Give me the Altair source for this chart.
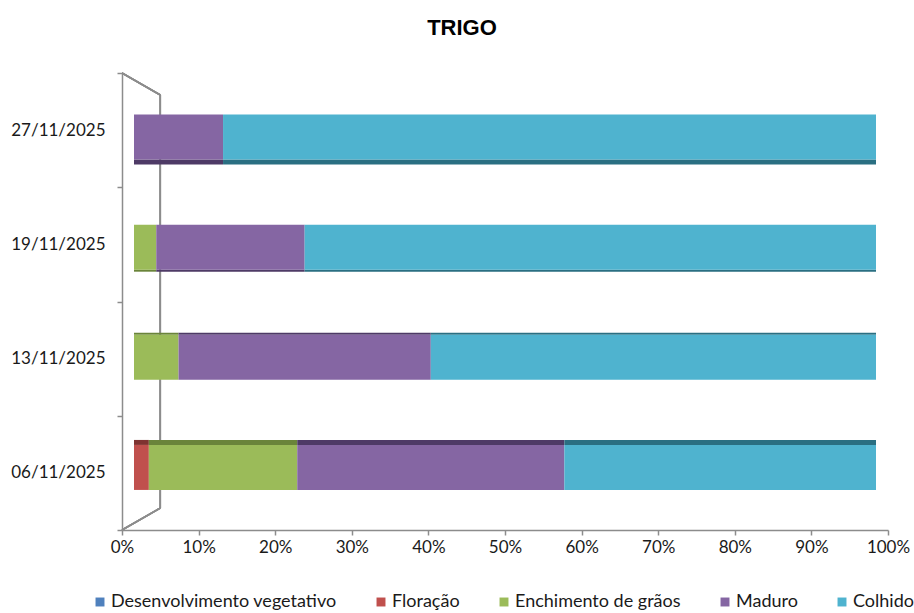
import altair as alt
import pandas as pd

dates = ["27/11/2025", "19/11/2025", "13/11/2025", "06/11/2025"]
stages = ["Desenvolvimento vegetativo", "Floração", "Enchimento de grãos", "Maduro", "Colhido"]
colors = ["#4F81BD", "#C0504D", "#9BBB59", "#8566A3", "#4FB3CF"]
dark_colors = ["#2F4F7A", "#7E3331", "#6A843A", "#4E3A66", "#2A6F82"]

# percent per stage, one list per date (same order as `dates`)
desenv = [0, 0, 0, 0]
floracao = [0, 0, 0, 2]
enchimento = [0, 3, 6, 20]
maduro = [12, 20, 34, 36]
colhido = [88, 77, 60, 42]

x_ticks = [0, 10, 20, 30, 40, 50, 60, 70, 80, 90, 100]

series = [desenv, floracao, enchimento, maduro, colhido]
rows = []
for di, d in enumerate(dates):
    cum = 0.0
    for si, s in enumerate(stages):
        v = series[si][di]
        rows.append({"date": d, "stage": s, "idx": si, "value": v,
                     "start": cum, "end": cum + v, "dark": dark_colors[si]})
        cum += v
df = pd.DataFrame(rows)

FONT = "Lato"

# ---- axes layer (0..100 % on the full plot width, band ticks at boundaries)
axis_df = pd.DataFrame({"date": dates, "v": [0] * len(dates)})
axes = alt.Chart(axis_df).mark_point(opacity=0).encode(
    x=alt.X("v:Q", scale=alt.Scale(domain=[0, 100], nice=False),
            axis=alt.Axis(values=x_ticks, labelExpr="datum.value + '%'", title=None,
                          grid=False, tickSize=5, tickColor="#8c8c8c", domainColor="#8c8c8c",
                          domainWidth=1.5, tickWidth=1.5, labelFont=FONT, labelFontSize=17,
                          labelColor="#1a1a1a", labelPadding=4, labelFlush=False)),
    y=alt.Y("date:N", sort=dates,
            axis=alt.Axis(title=None, tickBand="extent", tickSize=5, tickColor="#8c8c8c",
                          domainColor="#8c8c8c", domainWidth=1.5, tickWidth=1.5,
                          labelFont=FONT, labelFontSize=17, labelColor="#1a1a1a",
                          labelPadding=12)),
)

# ---- 3D back wall outline
wall_v = alt.Chart(axis_df).mark_rule(color="#8c8c8c", strokeWidth=1.5).encode(
    x=alt.datum(5), y=alt.value(22), y2=alt.value(435))
wall_top = alt.Chart(axis_df).mark_rule(color="#8c8c8c", strokeWidth=1.5).encode(
    x=alt.datum(0), x2=alt.datum(5), y=alt.value(0), y2=alt.value(22))
wall_bot = alt.Chart(axis_df).mark_rule(color="#8c8c8c", strokeWidth=1.5).encode(
    x=alt.datum(0), x2=alt.datum(5), y=alt.value(457), y2=alt.value(435))

frame = alt.layer(axes, wall_v, wall_top, wall_bot)

# ---- bars (front face) on an inner scale mimicking the 3D depth
xs = alt.X("start:Q", scale=alt.Scale(domain=[0, 100], range=[12, 754], nice=False), axis=None)
ys = alt.Y("date:N", sort=dates,
           scale=alt.Scale(range=[9, 449.5], paddingInner=0.591, paddingOuter=0.2955),
           axis=None)

bars = alt.Chart(df).mark_bar(size=45).encode(
    x=xs, x2="end:Q", y=ys,
    color=alt.Color("stage:N", scale=alt.Scale(domain=stages, range=colors),
                    legend=alt.Legend(title=None, orient="none", direction="horizontal",
                                      columns=5, legendX=-31, legendY=520,
                                      symbolType="square", symbolSize=80,
                                      symbolStrokeWidth=0, labelFont=FONT,
                                      labelFontSize=18, labelColor="#1a1a1a",
                                      columnPadding=35, labelOffset=2, labelLimit=0)),
    order=alt.Order("idx:Q"),
)

faces = []
face_spec = {"27/11/2025": (5, 1), "19/11/2025": (2, 1), "13/11/2025": (2, -1), "06/11/2025": (5, -1)}
for d, (t, sgn) in face_spec.items():
    faces.append(
        alt.Chart(df).transform_filter(alt.datum.date == d).mark_bar(
            size=t, yOffset=sgn * (22.5 + t / 2)
        ).encode(x=xs, x2="end:Q", y=ys, color=alt.Color("dark:N", scale=None))
    )

bar_group = alt.layer(*faces, bars)

chart = alt.layer(frame, bar_group).resolve_scale(
    x="independent", y="independent"
).properties(
    width=766, height=457,
    title=alt.TitleParams("TRIGO", font="Liberation Sans", fontSize=22, fontWeight="bold",
                          color="#000000", anchor="middle", offset=24, dx=-43),
    autosize=alt.AutoSizeParams(type="none"),
    padding={"left": 122, "top": 73, "right": 26, "bottom": 83},
).configure_view(stroke=None).configure_axis(labelFontWeight="normal")

chart.save("out.html", embed_options={"renderer": "svg", "actions": False})
